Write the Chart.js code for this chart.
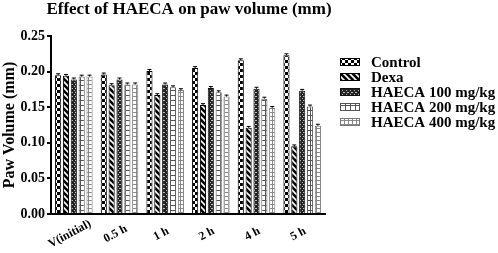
<!DOCTYPE html>
<html><head><meta charset="utf-8">
<script src="https://cdn.jsdelivr.net/npm/chart.js@4.4.1/dist/chart.umd.min.js"></script>
<style>html,body{margin:0;padding:0;background:#fff}canvas{display:block}</style>
</head><body>
<canvas id="c" width="498" height="253" style="width:498px;height:253px"></canvas>
<script>
const chartTitle = 'Effect of HAECA on paw volume (mm)';
const yTitle = 'Paw Volume (mm)';
const categories = ['V(initial)', '0.5 h', '1 h', '2 h', '4 h', '5 h'];
const seriesNames = ['Control', 'Dexa', 'HAECA 100 mg/kg', 'HAECA 200 mg/kg', 'HAECA 400 mg/kg'];
const control = [0.195, 0.196, 0.201, 0.205, 0.216, 0.223];
const dexa    = [0.194, 0.181, 0.167, 0.153, 0.121, 0.095];
const haeca100 = [0.189, 0.189, 0.182, 0.177, 0.176, 0.173];
const haeca200 = [0.193, 0.182, 0.178, 0.171, 0.162, 0.151];
const haeca400 = [0.193, 0.182, 0.174, 0.165, 0.149, 0.124];
const errControl = [0.002, 0.002, 0.002, 0.002, 0.002, 0.002];
const errDexa    = [0.002, 0.002, 0.002, 0.002, 0.002, 0.002];
const err100     = [0.002, 0.002, 0.002, 0.002, 0.002, 0.002];
const err200     = [0.002, 0.002, 0.002, 0.002, 0.002, 0.002];
const err400     = [0.002, 0.002, 0.002, 0.002, 0.002, 0.002];
const yTickValues = [0, 0.05, 0.10, 0.15, 0.20, 0.25];

const serif = "'Liberation Serif', 'Times New Roman', serif";

function makePattern(w, h, draw) {
  const c = document.createElement('canvas');
  c.width = w; c.height = h;
  const g = c.getContext('2d');
  draw(g, w, h);
  return g.createPattern(c, 'repeat');
}
const patControl = makePattern(6, 6, (g) => {
  g.fillStyle = '#000'; g.fillRect(0, 0, 6, 6);
  g.fillStyle = '#fff'; g.fillRect(0, 0, 3, 3); g.fillRect(3, 3, 3, 3);
});
const patDexa = makePattern(6, 6, (g) => {
  g.fillStyle = '#000'; g.fillRect(0, 0, 6, 6);
  g.strokeStyle = '#fff'; g.lineWidth = 1.6;
  g.beginPath(); g.moveTo(-1, -1); g.lineTo(7, 7); g.stroke();
  g.beginPath(); g.moveTo(-1, 5); g.lineTo(1, 7); g.stroke();
  g.beginPath(); g.moveTo(5, -1); g.lineTo(7, 1); g.stroke();
});
const pat100 = makePattern(4, 4, (g) => {
  g.fillStyle = '#222'; g.fillRect(0, 0, 4, 4);
  g.fillStyle = '#bbb'; g.fillRect(0, 0, 1, 1); g.fillRect(2, 2, 1, 1); g.fillRect(3, 0, 1, 1);
});
const pat200 = makePattern(5, 5, (g) => {
  g.fillStyle = '#fff'; g.fillRect(0, 0, 5, 5);
  g.fillStyle = '#555'; g.fillRect(0, 0, 5, 1); g.fillRect(0, 0, 1, 5);
});
const pat400 = makePattern(4, 4, (g) => {
  g.fillStyle = '#fff'; g.fillRect(0, 0, 4, 4);
  g.fillStyle = '#888'; g.fillRect(0, 0, 4, 1); g.fillRect(0, 0, 1, 4);
});

const values = [control, dexa, haeca100, haeca200, haeca400];
const errs = [errControl, errDexa, err100, err200, err400];
const fills = [patControl, patDexa, pat100, pat200, pat400];
const borders = ['#000', '#000', '#111', '#555', '#777'];

const datasets = seriesNames.map((n, i) => ({
  label: n,
  data: values[i],
  backgroundColor: fills[i],
  borderColor: borders[i],
  borderWidth: 1,
  barPercentage: 0.78,
  categoryPercentage: 0.86
}));

const extras = {
  id: 'extras',
  afterDatasetsDraw(chart) {
    const ctx = chart.ctx;
    const ys = chart.scales.y;
    ctx.save();
    chart.data.datasets.forEach((ds, di) => {
      const meta = chart.getDatasetMeta(di);
      meta.data.forEach((bar, j) => {
        const top = ys.getPixelForValue(ds.data[j] + errs[di][j]);
        ctx.strokeStyle = '#000'; ctx.lineWidth = 1;
        ctx.beginPath();
        ctx.moveTo(bar.x, bar.y); ctx.lineTo(bar.x, top);
        ctx.moveTo(bar.x - 2, top); ctx.lineTo(bar.x + 2, top);
        ctx.stroke();
      });
    });
    ctx.restore();
  },
  afterDraw(chart) {
    const ctx = chart.ctx;
    const xs = chart.scales.x;
    const area = chart.chartArea;
    ctx.save();
    ctx.fillStyle = '#000';
    ctx.font = 'bold 17px ' + serif;
    ctx.textAlign = 'center'; ctx.textBaseline = 'middle';
    ctx.fillText(chartTitle, (area.left + area.right) / 2 + 1, 10);
    ctx.font = 'bold 12px ' + serif;
    categories.forEach((lab, i) => {
      const x = xs.getPixelForValue(i) - 4;
      ctx.save();
      ctx.translate(x, 234);
      ctx.rotate(-28 * Math.PI / 180);
      ctx.textAlign = 'center'; ctx.textBaseline = 'middle';
      ctx.fillText(lab, 0, 0);
      ctx.restore();
    });
    const rows = [62, 77, 92, 107, 122];
    seriesNames.forEach((n, i) => {
      const y = rows[i];
      ctx.fillStyle = fills[i];
      ctx.fillRect(340, y - 4, 20, 8);
      ctx.strokeStyle = borders[i]; ctx.lineWidth = 1;
      ctx.strokeRect(340.5, y - 3.5, 19, 7);
      ctx.fillStyle = '#000';
      ctx.font = 'bold 15px ' + serif;
      ctx.textAlign = 'left'; ctx.textBaseline = 'middle';
      ctx.fillText(n, 371, y + 1);
    });
    ctx.restore();
  }
};

new Chart(document.getElementById('c'), {
  type: 'bar',
  data: { labels: categories, datasets },
  options: {
    responsive: false,
    animation: false,
    devicePixelRatio: 1,
    layout: { padding: { top: 36, right: 173, bottom: 0, left: 0 } },
    plugins: { legend: { display: false }, title: { display: false }, tooltip: { enabled: false } },
    scales: {
      x: {
        grid: { display: false },
        border: { display: true, color: '#000', width: 2 },
        ticks: { display: false },
        afterFit(s) { s.height = 39; }
      },
      y: {
        min: 0, max: 0.25,
        afterBuildTicks(s) { s.ticks = yTickValues.map(v => ({ value: v })); },
        ticks: {
          color: '#000', padding: 2,
          font: { family: serif, size: 14, weight: 'bold' },
          callback: (v) => Number(v).toFixed(2)
        },
        grid: { drawOnChartArea: false, drawTicks: true, tickLength: 4, color: '#000', lineWidth: 2 },
        border: { display: true, color: '#000', width: 2 },
        title: { display: true, text: yTitle, color: '#000', font: { family: serif, size: 16, weight: 'bold' }, padding: { top: 0, bottom: 2 } },
        afterFit(s) { s.width = 51; }
      }
    }
  },
  plugins: [extras]
});
</script>
</body></html>
